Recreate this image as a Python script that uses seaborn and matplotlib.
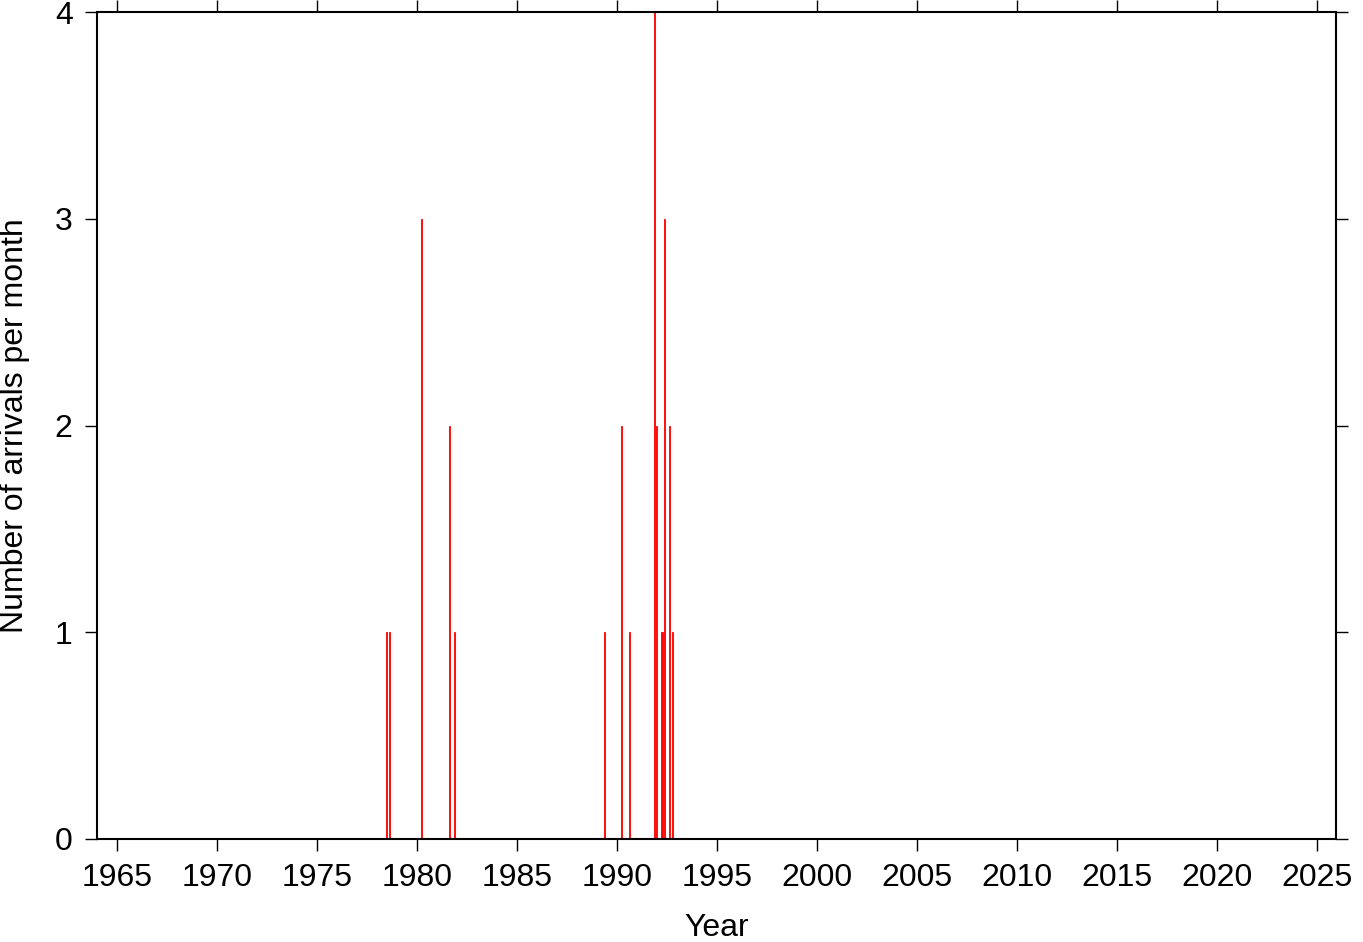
import matplotlib
matplotlib.use("Agg")
import matplotlib.pyplot as plt
import seaborn as sns
import pandas as pd

# Data (monthly arrival counts)
month_labels = ["1978-06", "1978-08", "1980-03", "1981-08", "1981-11",
                "1989-05", "1990-03", "1990-08", "1991-11", "1991-12",
                "1992-03", "1992-04", "1992-05", "1992-08", "1992-10"]
counts = [1, 1, 3, 2, 1, 1, 2, 1, 4, 2, 1, 1, 3, 2, 1]
x_ticks = [1965, 1970, 1975, 1980, 1985, 1990, 1995, 2000, 2005, 2010, 2015, 2020, 2025]
y_ticks = [0, 1, 2, 3, 4]

years = [int(m[:4]) for m in month_labels]
mons = [int(m[5:]) for m in month_labels]
dec_year = [y + (mo - 0.5) / 12.0 for y, mo in zip(years, mons)]
df = pd.DataFrame({"year": dec_year, "count": counts})

sns.set_style("ticks")
plt.rcParams["font.family"] = ["Liberation Sans", "DejaVu Sans"]
plt.rcParams["text.color"] = "black"
plt.rcParams["axes.labelcolor"] = "black"

fig = plt.figure(figsize=(13.63, 9.42), dpi=100)
ax = fig.add_axes([97 / 1363, 1 - 839 / 942, (1336 - 97) / 1363, (839 - 12) / 942])

sns.barplot(data=df, x="year", y="count", native_scale=True, orient="x",
            color="#ff0000", saturation=1, width=0.6, linewidth=0.6,
            edgecolor="#ff0000", ax=ax, errorbar=None)

ax.set_xlim(1964.0, 2025.95)
ax.set_ylim(0, 4)
ax.set_xticks(x_ticks)
ax.set_xticklabels([str(t) for t in x_ticks])
ax.set_yticks(y_ticks)
ax.set_yticklabels([str(t) for t in y_ticks])

for s in ax.spines.values():
    s.set_visible(True)
    s.set_linewidth(1.5)
    s.set_color("black")
    s.set_zorder(5)

ax.tick_params(axis="both", which="major", direction="out", length=8.5, width=1.0,
               labelsize=23, colors="black", pad=9,
               top=True, right=True, labeltop=False, labelright=False)

ax.set_xlabel("Year", fontsize=23, labelpad=14, color="black")
ax.set_ylabel("Number of arrivals per month", fontsize=23, labelpad=18, color="black")

fig.savefig("out.png", dpi=100)
